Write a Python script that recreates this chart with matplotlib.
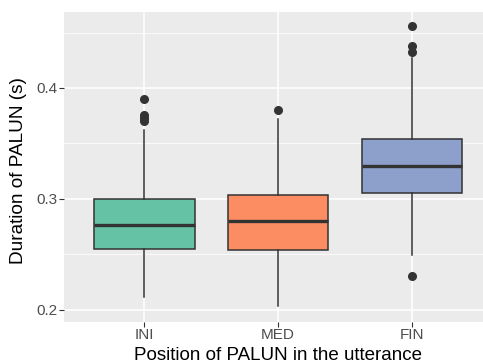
import matplotlib
matplotlib.use("Agg")
import matplotlib.pyplot as plt

# values
positions = ["INI", "MED", "FIN"]
q1 = [0.2543, 0.2538, 0.3048]
medians = [0.2766, 0.2800, 0.3293]
q3 = [0.3000, 0.3036, 0.3538]
whisker_low = [0.2110, 0.2030, 0.2495]
whisker_high = [0.3622, 0.3720, 0.4268]
outliers = [
    [0.3898, 0.3757, 0.3725, 0.3705],
    [0.3800],
    [0.4559, 0.4378, 0.4327, 0.2300],
]
colors = ["#66C2A5", "#FC8D62", "#8DA0CB"]

plt.rcParams["font.family"] = ["Liberation Sans", "DejaVu Sans"]

stats = []
for i, name in enumerate(positions):
    stats.append({
        "label": name,
        "q1": q1[i], "med": medians[i], "q3": q3[i],
        "whislo": whisker_low[i], "whishi": whisker_high[i],
        "fliers": outliers[i],
    })

fig = plt.figure(figsize=(4.83, 3.64), dpi=100)
ax = fig.add_axes([64 / 483, 42 / 364, 1 - 64 / 483, 310 / 364])
ax.set_facecolor("#EBEBEB")

edge = "#333333"
bp = ax.bxp(stats, positions=[1, 2, 3], widths=0.75, patch_artist=True,
            showcaps=False,
            boxprops=dict(edgecolor=edge, linewidth=1.1),
            medianprops=dict(color=edge, linewidth=2.4),
            whiskerprops=dict(color=edge, linewidth=1.1),
            flierprops=dict(marker="o", markerfacecolor=edge,
                            markeredgecolor=edge, markersize=5.5))
for patch, c in zip(bp["boxes"], colors):
    patch.set_facecolor(c)
    patch.set_zorder(3)
for key in ["medians", "whiskers", "fliers"]:
    for a in bp[key]:
        a.set_zorder(4)

ax.set_xlim(0.4, 3.53)
ax.set_ylim(0.1889, 0.4685)
ax.set_yticks([0.2, 0.3, 0.4])
ax.set_yticklabels(["0.2", "0.3", "0.4"])
ax.set_yticks([0.25, 0.35, 0.45], minor=True)
ax.set_xticks([1, 2, 3])
ax.set_xticklabels(positions)

ax.grid(True, which="major", color="white", linewidth=1.1)
ax.grid(True, which="minor", axis="y", color="white", linewidth=0.55)
ax.set_axisbelow(True)
for s in ax.spines.values():
    s.set_visible(False)
ax.tick_params(which="major", length=3.6, width=0.8, color="#333333",
               labelcolor="#4D4D4D", labelsize=11)
ax.tick_params(axis="y", pad=1.2)
ax.tick_params(axis="x", pad=0.5)
ax.tick_params(which="minor", length=0)

ax.set_xlabel("Position of PALUN in the utterance", fontsize=13.5, va="baseline")
ax.xaxis.set_label_coords(0.511, -37.5 / 310)
ax.set_ylabel("Duration of PALUN (s)", fontsize=13.7, va="center")
ax.yaxis.set_label_coords(-0.109, 0.49)

fig.savefig("out.png", dpi=100)
